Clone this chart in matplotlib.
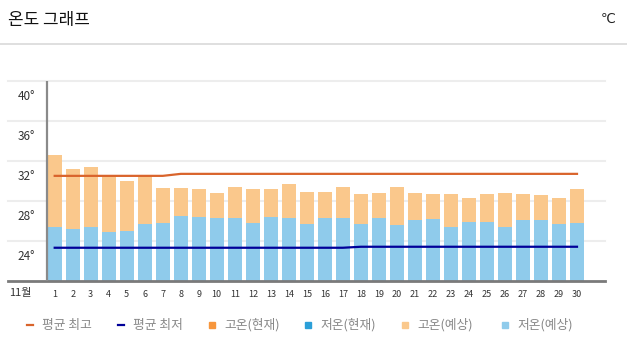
import matplotlib
matplotlib.use("Agg")
from matplotlib import pyplot as plt
from matplotlib.lines import Line2D
from matplotlib.patches import Rectangle
import numpy as np

plt.rcParams['font.family'] = ['Noto Sans CJK KR', 'DejaVu Sans']

# November daily temperatures (deg C)
days = list(range(1, 31))
high_temps = [32.6, 31.2, 31.4, 30.6, 30.0, 30.6, 29.3, 29.3, 29.2, 28.8,
              29.4, 29.2, 29.2, 29.7, 28.9, 28.9, 29.4, 28.7, 28.8, 29.4,
              28.8, 28.7, 28.7, 28.3, 28.7, 28.8, 28.7, 28.6, 28.3, 29.2]
low_temps = [25.4, 25.2, 25.4, 24.9, 25.0, 25.7, 25.8, 26.5, 26.4, 26.3,
             26.3, 25.8, 26.4, 26.3, 25.7, 26.3, 26.3, 25.7, 26.3, 25.6,
             26.1, 26.2, 25.4, 25.9, 25.9, 25.4, 26.1, 26.1, 25.7, 25.8]
avg_high = [30.5] * 7 + [30.7] * 23
avg_low = [23.3] * 17 + [23.4] * 13
y_ticks = [24, 28, 32, 36, 40]

legend_items = [
    ("line", "#d9642c", "평균 최고"),
    ("line", "#000099", "평균 최저"),
    ("box", "#f7963c", "고온(현재)"),
    ("box", "#2b9fd8", "저온(현재)"),
    ("box", "#fac88c", "고온(예상)"),
    ("box", "#8fcbeb", "저온(예상)"),
]

W, H = 627, 348
fig = plt.figure(figsize=(W / 100, H / 100), dpi=100)
ax = fig.add_axes([8 / W, (H - 280.7) / H, 597 / W, 199.7 / H])

x = np.array(days)
ax.bar(x, high_temps, width=0.777, color="#fac88c", zorder=2)
ax.bar(x, low_temps, width=0.777, color="#8fcbeb", zorder=3)
ax.plot(x, avg_high, color="#d9642c", lw=1.6, zorder=4)
ax.plot(x, avg_low, color="#000099", lw=1.6, zorder=4)

ax.set_xlim(-1.593, 31.555)
ax.set_ylim(20, 40)
for s in ax.spines.values():
    s.set_visible(False)

for v in y_ticks:
    ax.axhline(v, color="#ededed", lw=1.5, zorder=1, clip_on=False)
    ax.text(-0.094, v - 1.6, f"{v}°", ha="right", va="center",
            fontsize=8.5, color="#333333")
ax.axhline(20, color="#7a7a7a", lw=2, zorder=5, clip_on=False)
ax.axvline(0.556, color="#8a8a8a", lw=1.6, zorder=5)

ax.set_xticks(x)
ax.set_xticklabels([str(d) for d in days], fontsize=6.5, color="#333333")
ax.tick_params(axis="x", length=0, pad=7)
ax.set_yticks([])
ax.text(-0.9, 18.8, "11월", ha="center", va="center", fontsize=8, color="#333333")

# header
fig.text(8 / W, 1 - 20.5 / H, "온도 그래프", fontsize=12.2, color="#111111",
         ha="left", va="center")
fig.text(616 / W, 1 - 19 / H, "℃", fontsize=9.5, color="#222222",
         ha="right", va="center", family=["DejaVu Sans"])
fig.add_artist(Line2D([0, 1], [1 - 44 / H] * 2, color="#d9d9d9", lw=1.2))

# legend row
legend_x = [27, 118, 209, 305, 402, 502]
ly = 1 - 325 / H
for (kind, color, label), px in zip(legend_items, legend_x):
    if kind == "line":
        fig.add_artist(Line2D([px / W, (px + 6) / W], [ly, ly], color=color, lw=1.6))
    else:
        fig.add_artist(Rectangle((px / W, ly - 3 / H), 6 / W, 6 / H, color=color,
                                 transform=fig.transFigure))
    fig.text((px + 15) / W, ly, label, fontsize=9.2, color="#888888",
             ha="left", va="center")

fig.savefig("out.png", dpi=100)
